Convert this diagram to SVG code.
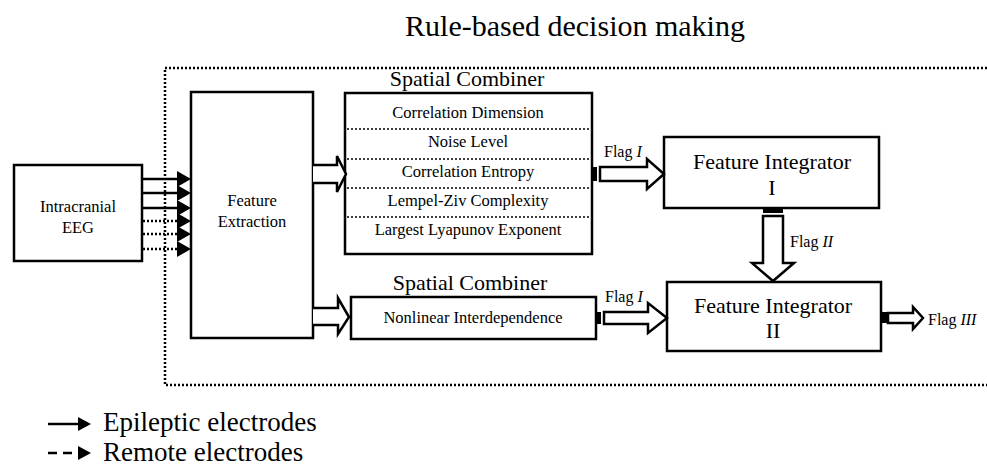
<svg xmlns="http://www.w3.org/2000/svg" width="987" height="471" viewBox="0 0 987 471">
<style>
text{font-family:"Liberation Serif","Times New Roman",serif;fill:#000}
.box{fill:#fff;stroke:#000;stroke-width:2.5}
.sep{stroke:#000;stroke-width:1.6;stroke-dasharray:2 2;fill:none}
.hollow{fill:#fff;stroke:#000;stroke-width:2.5;stroke-linejoin:miter}
.solid{stroke:#000;stroke-width:2.5;fill:none}
.dot{stroke:#000;stroke-width:2.5;stroke-dasharray:2 2;fill:none}
.head{fill:#000}
.lbl{font-size:16px}
.big{font-size:22px}
.mid{font-size:16.5px}
</style>
<rect width="987" height="471" fill="#fff"/>

<g id="title">
<text x="575" y="36" font-size="30" text-anchor="middle">Rule-based decision making</text>
<path d="M987,68 H165 V385 H987" stroke="#000" stroke-width="2.5" stroke-dasharray="2 2" fill="none"/>
</g>

<g id="eeg">
<rect class="box" x="14" y="165" width="128" height="96"/>
<text x="78" y="212" class="mid" text-anchor="middle">Intracranial</text>
<text x="78" y="233" class="mid" text-anchor="middle">EEG</text>
</g>

<g id="feature-extraction">
<rect class="box" x="191" y="92" width="122" height="246"/>
<text x="252" y="206" class="mid" text-anchor="middle">Feature</text>
<text x="252" y="227" class="mid" text-anchor="middle">Extraction</text>
</g>

<g id="spatial-combiner-1">
<text x="467" y="86" font-size="22" text-anchor="middle">Spatial Combiner</text>
<rect class="box" x="345" y="93" width="247" height="161"/>
<line class="sep" x1="347" y1="129" x2="590" y2="129"/>
<line class="sep" x1="347" y1="159" x2="590" y2="159"/>
<line class="sep" x1="347" y1="188" x2="590" y2="188"/>
<line class="sep" x1="347" y1="217" x2="590" y2="217"/>
<text x="468" y="118" class="mid" text-anchor="middle">Correlation Dimension</text>
<text x="468" y="147" class="mid" text-anchor="middle">Noise Level</text>
<text x="468" y="177" class="mid" text-anchor="middle">Correlation Entropy</text>
<text x="468" y="206" class="mid" text-anchor="middle">Lempel-Ziv Complexity</text>
<text x="468" y="235" class="mid" text-anchor="middle">Largest Lyapunov Exponent</text>
</g>

<g id="spatial-combiner-2">
<text x="470" y="290" font-size="22" text-anchor="middle">Spatial Combiner</text>
<rect class="box" x="351" y="297" width="245" height="42"/>
<text x="473" y="323" class="mid" text-anchor="middle">Nonlinear Interdependence</text>
</g>

<g id="feature-integrator-1">
<rect class="box" x="664" y="137" width="215" height="71"/>
<text x="772" y="169" class="big" text-anchor="middle">Feature Integrator</text>
<text x="772" y="195" class="big" text-anchor="middle">I</text>
</g>

<g id="feature-integrator-2">
<rect class="box" x="667" y="282" width="214" height="69"/>
<text x="773" y="313" class="big" text-anchor="middle">Feature Integrator</text>
<text x="773" y="338" class="big" text-anchor="middle">II</text>
</g>

<g id="connectors">
<line class="solid" x1="142" y1="179" x2="178" y2="179"/>
<line class="solid" x1="142" y1="193" x2="178" y2="193"/>
<line class="solid" x1="142" y1="208" x2="178" y2="208"/>
<line class="dot" x1="143" y1="221" x2="178" y2="221"/>
<line class="dot" x1="143" y1="234" x2="178" y2="234"/>
<line class="dot" x1="143" y1="249" x2="178" y2="249"/>
<polygon class="head" points="177,171 191,179 177,187"/>
<polygon class="head" points="177,185 191,193 177,201"/>
<polygon class="head" points="177,200 191,208 177,216"/>
<polygon class="head" points="177,213 191,221 177,229"/>
<polygon class="head" points="177,226 191,234 177,242"/>
<polygon class="head" points="177,241 191,249 177,257"/>

<path class="hollow" d="M313,165 H337 V156 L346,174 L337,192 V183 H313"/>
<path class="hollow" d="M313,308 H338 V298 L349,317 L338,334 V325 H313"/>

<rect x="592" y="167" width="5" height="14" fill="#000"/>
<path class="hollow" d="M600,167 H647 V159 L664,174 L647,189 V181 H600 Z"/>
<text x="604" y="157" class="lbl">Flag <tspan font-style="italic">I</tspan></text>

<rect x="596" y="312" width="5" height="12" fill="#000"/>
<path class="hollow" d="M604,312 H648 V303 L667,318 L648,333 V324 H604 Z"/>
<text x="605" y="302" class="lbl">Flag <tspan font-style="italic">I</tspan></text>

<rect x="763" y="208" width="20" height="5" fill="#000"/>
<path class="hollow" d="M763,216 V263 H752 L773,281 L794,263 H783 V216 Z"/>
<text x="790" y="247" class="lbl">Flag <tspan font-style="italic">II</tspan></text>

<rect x="881" y="312" width="6" height="11" fill="#000"/>
<path class="hollow" d="M888,313 H913 V307 L923,318 L913,329 V323 H888 Z"/>
<text x="928" y="325" class="lbl">Flag <tspan font-style="italic">III</tspan></text>
</g>

<g id="legend">
<line class="solid" x1="48" y1="424" x2="80" y2="424"/>
<polygon class="head" points="78,417 91,424 78,431"/>
<text x="103" y="431" font-size="27">Epileptic electrodes</text>
<line x1="48" y1="453" x2="80" y2="453" stroke="#000" stroke-width="2.5" stroke-dasharray="9 6"/>
<polygon class="head" points="78,446 91,453 78,460"/>
<text x="103" y="461" font-size="27">Remote electrodes</text>
</g>
</svg>
